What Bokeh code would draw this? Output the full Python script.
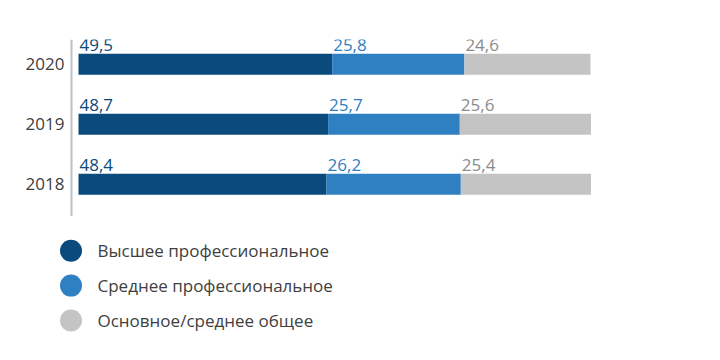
from bokeh.plotting import figure
from bokeh.models import ColumnDataSource, Range1d, FixedTicker
from bokeh.layouts import column
from bokeh.core.properties import value
from bokeh.embed import file_html
from bokeh.resources import INLINE

years = ["2018", "2019", "2020"]
higher = [48.4, 48.7, 49.5]
secondary = [26.2, 25.7, 25.8]
basic = [25.4, 25.6, 24.6]
series_names = ["Высшее профессиональное", "Среднее профессиональное", "Основное/среднее общее"]

bar_colors = ["#0a4a7c", "#2f80c2", "#c3c4c3"]
label_colors = ["#0a4a7c", "#2f80c2", "#8c8c8c"]
FONT = "Open Sans"
FS = "17px"

ypos = list(range(len(years)))
src = ColumnDataSource(dict(y=ypos, higher=higher, secondary=secondary, basic=basic))

p = figure(width=704, height=216, output_backend="svg", toolbar_location=None,
           x_range=Range1d(-15.22, 122.15), y_range=Range1d(-0.538, 2.412),
           min_border_left=0, min_border_right=0, min_border_top=39, min_border_bottom=0)
p.outline_line_color = None
p.grid.visible = False
p.xaxis.visible = False

yax = p.yaxis[0]
yax.fixed_location = -1.366
yax.ticker = FixedTicker(ticks=ypos)
yax.major_label_overrides = {i: y for i, y in enumerate(years)}
yax.major_tick_line_color = None
yax.major_tick_out = 0
yax.major_tick_in = 0
yax.minor_tick_line_color = None
yax.axis_line_color = "#c0c0c0"
yax.axis_line_width = 2
yax.major_label_text_font = FONT
yax.major_label_text_font_size = FS
yax.major_label_text_color = "#404040"
yax.major_label_standoff = 7

BAR_H = 0.35
p.hbar_stack(["higher", "secondary", "basic"], y="y", height=BAR_H,
             color=bar_colors, line_color=None, source=src)

starts = [[0.0] * len(years), list(higher), [h + s for h, s in zip(higher, secondary)]]
vals = [higher, secondary, basic]
for k in range(3):
    lsrc = ColumnDataSource(dict(
        x=starts[k],
        y=[v + BAR_H / 2 for v in ypos],
        t=[f"{v:.1f}".replace(".", ",") for v in vals[k]],
    ))
    p.text(x="x", y="y", text="t", source=lsrc, x_offset=1, y_offset=-9,
           text_baseline="alphabetic", text_align="left",
           text_font=value(FONT), text_font_size=FS, text_color=label_colors[k])

# legend panel (pixel coordinates)
q = figure(width=704, height=136, output_backend="svg", toolbar_location=None,
           x_range=Range1d(0, 704), y_range=Range1d(0, 136),
           min_border_left=0, min_border_right=0, min_border_top=0, min_border_bottom=0)
q.outline_line_color = None
q.grid.visible = False
q.axis.visible = False
LEG_TOP, LEG_STEP = 101.8, 34.9
leg_y = [LEG_TOP - LEG_STEP * i for i in range(len(series_names))]
lsrc = ColumnDataSource(dict(x=[70.5] * 3, tx=[97.0] * 3, y=leg_y, c=bar_colors, name=series_names))
q.scatter(x="x", y="y", size=22, marker="circle", fill_color="c", line_color=None, source=lsrc)
q.text(x="tx", y="y", text="name", source=lsrc, text_baseline="middle", text_align="left",
       text_font=value(FONT), text_font_size=FS, text_color="#404040")

layout = column(p, q, spacing=0)
open("out.html", "w").write(file_html(layout, INLINE))
